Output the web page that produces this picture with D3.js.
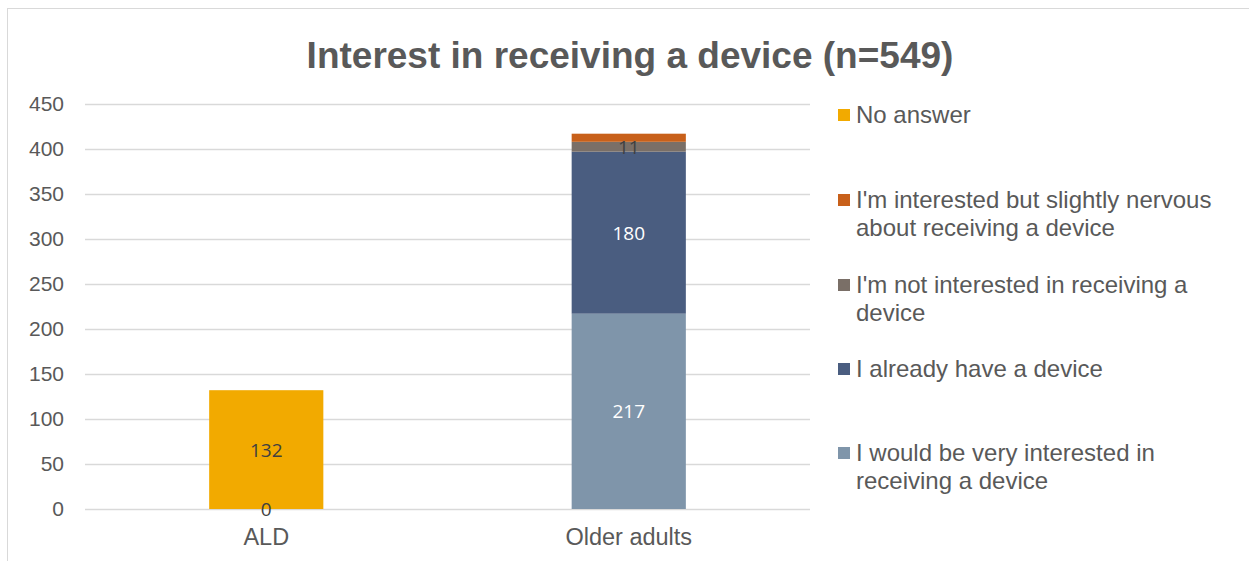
<!DOCTYPE html>
<html>
<head>
<meta charset="utf-8">
<script src="https://cdn.jsdelivr.net/npm/d3@7"></script>
<style>
  body { margin: 0; background: #fff; }
  svg { font-family: "Liberation Sans", Arial, sans-serif; }
</style>
</head>
<body>
<div id="container"></div>
<script>
// categories and series (stack order bottom -> top)
let categories = ["ALD", "Older adults"];
let seriesNames = [
  "I would be very interested in receiving a device",
  "I already have a device",
  "I'm not interested in receiving a device",
  "I'm interested but slightly nervous about receiving a device",
  "No answer"
];
let veryInterested = [0, 217];
let alreadyHave = [0, 180];
let notInterested = [0, 11];
let nervous = [0, 9];
let noAnswer = [132, 0];
let yTicks = [0, 50, 100, 150, 200, 250, 300, 350, 400, 450];
// which series show a value label, per category
let labelShown = [
  [true, false, false, false, true],
  [true, true, true, false, false]
];

let colors = ["#7f95aa", "#4a5d80", "#7a6f67", "#c8601a", "#f2aa00"];

let w = 1249;
let h = 561;
let plotLeft = 85, plotRight = 810, plotTop = 104, plotBottom = 509;
let fontFam = "Liberation Sans, Arial, sans-serif";

let viz = d3.select("#container")
  .append("svg")
    .attr("width", w)
    .attr("height", h)
;

// chart frame
viz.append("rect")
  .attr("x", 7.5).attr("y", 8.5)
  .attr("width", w).attr("height", h)
  .attr("fill", "none")
  .attr("stroke", "#d9d9d9")
;

viz.append("text")
  .attr("x", 630).attr("y", 68)
  .attr("text-anchor", "middle")
  .attr("font-size", 37)
  .attr("font-weight", "bold")
  .attr("font-family", fontFam)
  .attr("fill", "#595959")
  .text("Interest in receiving a device (n=549)")
;

let rows = categories.map(function(c, i){
  return {
    cat: c,
    s0: veryInterested[i], s1: alreadyHave[i], s2: notInterested[i],
    s3: nervous[i], s4: noAnswer[i]
  };
});
let keys = ["s0", "s1", "s2", "s3", "s4"];
let stacked = d3.stack().keys(keys)(rows);

let yScale = d3.scaleLinear().domain([0, 450]).range([plotBottom, plotTop]);
let xScale = d3.scaleBand().domain(categories).range([plotLeft, plotRight]).padding(0);
let barW = xScale.bandwidth() * 0.315;

// gridlines
viz.append("g")
  .selectAll("line")
  .data(yTicks)
  .enter()
  .append("line")
    .attr("x1", plotLeft).attr("x2", plotRight)
    .attr("y1", function(d){ return Math.round(yScale(d)) + 0.5; })
    .attr("y2", function(d){ return Math.round(yScale(d)) + 0.5; })
    .attr("stroke", "#d9d9d9")
    .attr("stroke-width", 1.3)
;

let yAxis = d3.axisLeft(yScale).tickValues(yTicks).tickSize(0).tickPadding(0);
let yAxisGroup = viz.append("g")
  .attr("transform", "translate(64,0)")
  .call(yAxis);
yAxisGroup.select(".domain").remove();
yAxisGroup.selectAll("text")
  .attr("font-size", 21)
  .attr("fill", "#595959")
  .attr("font-family", fontFam);

let xAxis = d3.axisBottom(xScale).tickSize(0).tickPadding(0);
let xAxisGroup = viz.append("g")
  .attr("transform", "translate(0,545)")
  .call(xAxis);
xAxisGroup.select(".domain").remove();
xAxisGroup.selectAll("text")
  .attr("y", 0)
  .attr("dy", 0)
  .attr("font-size", 23.5)
  .attr("fill", "#595959")
  .attr("font-family", fontFam);

// bars
let layers = viz.append("g").selectAll("g")
  .data(stacked)
  .enter()
  .append("g")
    .attr("fill", function(d, i){ return colors[i]; })
;
layers.selectAll("rect")
  .data(function(d){ return d; })
  .enter()
  .append("rect")
    .attr("x", function(d){ return xScale(d.data.cat) + xScale.bandwidth()/2 - barW/2; })
    .attr("y", function(d){ return yScale(d[1]); })
    .attr("width", barW)
    .attr("height", function(d){ return yScale(d[0]) - yScale(d[1]); })
;

// value labels
stacked.forEach(function(layer, si){
  layer.forEach(function(d, ci){
    if (!labelShown[ci][si]) return;
    let v = d[1] - d[0];
    let dark = (v == 0 || si == 2 || si == 4);
    viz.append("text")
      .attr("x", xScale(d.data.cat) + xScale.bandwidth()/2)
      .attr("y", yScale((d[0] + d[1]) / 2) + 7)
      .attr("text-anchor", "middle")
      .attr("font-size", 19)
      .attr("font-family", "Open Sans, sans-serif")
      .attr("fill", dark ? "#404040" : "#ffffff")
      .text(v)
    ;
  });
});

// legend (top entry is the last series)
let legendOrder = [4, 3, 2, 1, 0];
let legendY = [115, 200, 285, 369, 453];
let legend = viz.append("g");
legendOrder.forEach(function(si, i){
  legend.append("rect")
    .attr("x", 838).attr("y", legendY[i] - 6)
    .attr("width", 12).attr("height", 12)
    .attr("fill", colors[si]);
  let name = seriesNames[si];
  let lines = [name];
  if (si == 3) lines = ["I'm interested but slightly nervous", "about receiving a device"];
  if (si == 2) lines = ["I'm not interested in receiving a", "device"];
  if (si == 0) lines = ["I would be very interested in", "receiving a device"];
  lines.forEach(function(t, j){
    legend.append("text")
      .attr("x", 856)
      .attr("y", legendY[i] + 8 + j * 28)
      .attr("font-size", 24)
      .attr("font-family", fontFam)
      .attr("fill", "#595959")
      .text(t);
  });
});
</script>
</body>
</html>
